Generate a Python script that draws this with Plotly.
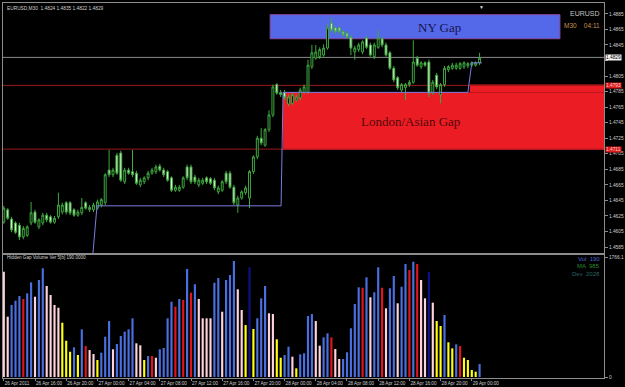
import plotly.graph_objects as go

# ---------------- data ----------------
bars = list(range(123))  # M30 bars from 26 Apr 2011 12:00

opens = [
1.4617, 1.4633, 1.4621, 1.4616, 1.4613, 1.4598, 1.4600, 1.4616, 1.4630, 1.4611,
1.4616, 1.4626, 1.4624, 1.4617, 1.4624, 1.4630, 1.4642, 1.4642, 1.4633, 1.4626,
1.4629, 1.4642, 1.4633, 1.4633, 1.4635, 1.4639, 1.4642, 1.4684, 1.4678, 1.4703,
1.4706, 1.4669, 1.4684, 1.4682, 1.4680, 1.4665, 1.4669, 1.4674, 1.4680, 1.4682,
1.4689, 1.4684, 1.4682, 1.4674, 1.4658, 1.4658, 1.4662, 1.4688, 1.4688, 1.4675,
1.4665, 1.4667, 1.4674, 1.4673, 1.4671, 1.4656, 1.4658, 1.4680, 1.4680, 1.4662,
1.4639, 1.4648, 1.4655, 1.4648, 1.4682, 1.4701, 1.4725, 1.4716, 1.4736, 1.4755,
1.4794, 1.4784, 1.4784, 1.4769, 1.4770, 1.4774, 1.4777, 1.4784, 1.4784, 1.4817,
1.4828, 1.4830, 1.4832, 1.4841, 1.4873, 1.4867, 1.4867, 1.4862, 1.4860, 1.4855,
1.4836, 1.4839, 1.4836, 1.4854, 1.4845, 1.4830, 1.4842, 1.4853, 1.4845, 1.4835,
1.4815, 1.4803, 1.4787, 1.4790, 1.4794, 1.4797, 1.4828, 1.4817, 1.4822, 1.4823,
1.4783, 1.4806, 1.4781, 1.4794, 1.4813, 1.4815, 1.4815, 1.4815, 1.4817, 1.4818,
1.4819, 1.4819, 1.4822]

highs = [
1.4638, 1.4635, 1.4624, 1.4618, 1.4616, 1.4612, 1.4613, 1.4643, 1.4633, 1.4622,
1.4629, 1.4629, 1.4626, 1.4625, 1.4655, 1.4642, 1.4644, 1.4644, 1.4635, 1.4633,
1.4648, 1.4644, 1.4639, 1.4642, 1.4646, 1.4648, 1.4680, 1.4710, 1.4687, 1.4706,
1.4709, 1.4687, 1.4687, 1.4710, 1.4683, 1.4674, 1.4676, 1.4683, 1.4687, 1.4691,
1.4692, 1.4687, 1.4684, 1.4676, 1.4665, 1.4665, 1.4676, 1.4691, 1.4691, 1.4678,
1.4674, 1.4674, 1.4676, 1.4675, 1.4674, 1.4664, 1.4671, 1.4683, 1.4683, 1.4665,
1.4651, 1.4658, 1.4664, 1.4684, 1.4703, 1.4728, 1.4738, 1.4738, 1.4761, 1.4794,
1.4796, 1.4787, 1.4787, 1.4781, 1.4783, 1.4781, 1.4790, 1.4794, 1.4826, 1.4845,
1.4845, 1.4842, 1.4846, 1.4872, 1.4880, 1.4869, 1.4869, 1.4864, 1.4863, 1.4858,
1.4844, 1.4848, 1.4851, 1.4857, 1.4848, 1.4848, 1.4864, 1.4855, 1.4848, 1.4837,
1.4818, 1.4805, 1.4796, 1.4796, 1.4800, 1.4851, 1.4831, 1.4824, 1.4824, 1.4826,
1.4800, 1.4809, 1.4796, 1.4818, 1.4819, 1.4822, 1.4822, 1.4823, 1.4824, 1.4823,
1.4824, 1.4824, 1.4835]

lows = [
1.4615, 1.4620, 1.4604, 1.4602, 1.4594, 1.4595, 1.4598, 1.4613, 1.4615, 1.4608,
1.4613, 1.4617, 1.4615, 1.4615, 1.4621, 1.4627, 1.4627, 1.4626, 1.4624, 1.4624,
1.4626, 1.4633, 1.4630, 1.4630, 1.4633, 1.4636, 1.4639, 1.4675, 1.4675, 1.4678,
1.4669, 1.4666, 1.4678, 1.4675, 1.4665, 1.4662, 1.4666, 1.4671, 1.4678, 1.4679,
1.4682, 1.4675, 1.4669, 1.4656, 1.4656, 1.4656, 1.4660, 1.4671, 1.4666, 1.4666,
1.4662, 1.4665, 1.4666, 1.4665, 1.4658, 1.4653, 1.4656, 1.4666, 1.4660, 1.4639,
1.4629, 1.4646, 1.4652, 1.4635, 1.4679, 1.4698, 1.4716, 1.4714, 1.4733, 1.4752,
1.4781, 1.4778, 1.4774, 1.4766, 1.4768, 1.4772, 1.4774, 1.4782, 1.4782, 1.4814,
1.4826, 1.4827, 1.4830, 1.4839, 1.4862, 1.4859, 1.4859, 1.4855, 1.4853, 1.4832,
1.4826, 1.4836, 1.4833, 1.4840, 1.4830, 1.4827, 1.4840, 1.4842, 1.4830, 1.4813,
1.4797, 1.4787, 1.4784, 1.4774, 1.4791, 1.4795, 1.4817, 1.4814, 1.4817, 1.4778,
1.4781, 1.4788, 1.4770, 1.4791, 1.4810, 1.4813, 1.4813, 1.4813, 1.4814, 1.4815,
1.4817, 1.4817, 1.4819]

closes = [
1.4635, 1.4622, 1.4607, 1.4604, 1.4598, 1.4609, 1.4611, 1.4629, 1.4617, 1.4620,
1.4626, 1.4620, 1.4617, 1.4622, 1.4639, 1.4639, 1.4630, 1.4629, 1.4626, 1.4630,
1.4636, 1.4635, 1.4636, 1.4639, 1.4643, 1.4646, 1.4678, 1.4678, 1.4684, 1.4680,
1.4671, 1.4684, 1.4680, 1.4678, 1.4667, 1.4671, 1.4674, 1.4680, 1.4684, 1.4688,
1.4684, 1.4678, 1.4671, 1.4658, 1.4662, 1.4662, 1.4674, 1.4674, 1.4669, 1.4669,
1.4671, 1.4671, 1.4669, 1.4667, 1.4661, 1.4661, 1.4669, 1.4669, 1.4662, 1.4642,
1.4648, 1.4656, 1.4661, 1.4682, 1.4701, 1.4725, 1.4719, 1.4736, 1.4755, 1.4791,
1.4783, 1.4781, 1.4777, 1.4778, 1.4781, 1.4778, 1.4787, 1.4791, 1.4819, 1.4835,
1.4836, 1.4839, 1.4841, 1.4867, 1.4864, 1.4862, 1.4862, 1.4858, 1.4855, 1.4841,
1.4841, 1.4845, 1.4849, 1.4842, 1.4832, 1.4845, 1.4854, 1.4845, 1.4832, 1.4815,
1.4800, 1.4790, 1.4794, 1.4794, 1.4797, 1.4823, 1.4819, 1.4822, 1.4819, 1.4783,
1.4797, 1.4791, 1.4794, 1.4815, 1.4817, 1.4819, 1.4819, 1.4821, 1.4822, 1.4821,
1.4822, 1.4822, 1.4828]

volumes = [
1550, 888, 1060, 1123, 1192, 1148, 1232, 1394, 1182, 1428,
1600, 1340, 1207, 1060, 1020, 799, 534, 372, 437, 324,
702, 456, 397, 339, 250, 358, 593, 824, 408, 486,
604, 667, 702, 864, 496, 467, 250, 309, 309, 284,
408, 427, 864, 1108, 1035, 1148, 1133, 1590, 1241, 1365,
1148, 864, 864, 864, 1388, 1457, 961, 1428, 1501, 1708,
1291, 986, 765, 1615, 707, 864, 1158, 1340, 938, 927,
555, 284, 324, 446, 299, 128, 334, 349, 898, 927,
824, 461, 584, 643, 584, 412, 265, 265, 364, 717,
1075, 1320, 1314, 1468, 1173, 1247, 1615, 1314, 1011, 1306,
1487, 1085, 1329, 1663, 1575, 1697, 1663, 1428, 1158, 1546,
1094, 824, 751, 913, 511, 422, 481, 456, 284, 250,
103, 78, 190]

# volume class per bar: b=normal, p=low-range, r=climax, y=low volume, n=churn
volume_class = list(
    "ppbbbrbbpb"
    "bppppyyyby"
    "brppybbbpb"
    "bbbbppybrp"
    "bbbbrbrbrb"
    "ppppbbpbbb"
    "ppynybbbpp"
    "yybbpybbbb"
    "ppbbrppbbb"
    "bbrbpbbrpb"
    "bpbbrbrppn"
    "pyybyybryy"
    "yyb")

time_tick_bars = [0, 8, 16, 24, 32, 40, 48, 56, 64, 72, 80, 88, 96, 104, 112, 120]
time_tick_labels = ["26 Apr 2011", "26 Apr 16:00", "26 Apr 20:00", "27 Apr 00:00",
                    "27 Apr 04:00", "27 Apr 08:00", "27 Apr 12:00", "27 Apr 16:00",
                    "27 Apr 20:00", "28 Apr 00:00", "28 Apr 04:00", "28 Apr 08:00",
                    "28 Apr 12:00", "28 Apr 16:00", "28 Apr 20:00", "29 Apr 00:00"]

price_ticks = [1.4585, 1.4605, 1.4625, 1.4645, 1.4665, 1.4685, 1.4705, 1.4725,
               1.4745, 1.4765, 1.4785, 1.4805, 1.4825, 1.4845, 1.4865, 1.4885]

bid_price = 1.4829
gap_line_top = 1.4793
gap_line_bottom = 1.4711
london_gap = (71.6, 1.4710, 1.4784)       # start bar, low, high
london_gap_ext = (119.5, 1.4784, 1.4794)  # upper extension
ny_gap = (68.3, 142.6, 1.4853, 1.4884)    # bar0, bar1, low, high

step_bars = [22.4, 23.9, 71.1, 71.6, 119.0, 120.0, 122.6]
step_prices = [1.4550, 1.4638, 1.4638, 1.4784, 1.4784, 1.4822, 1.4822]

vol_axis_max = 1766.1
shift_marker_bar = 122.6

# ---------------- styling ----------------
vol_colors = {"b": "#4a6fe0", "p": "#ffd3dc", "r": "#e3141c", "y": "#ffff10", "n": "#10108a"}
XR = [-0.205, 153.9]
FONT = "Liberation Sans"
AX = "#8c8c8c"
TXT = "#cfcfcf"

# the bid label box covers the tick label under it, as on the terminal
price_tick_text = ["" if abs(v - bid_price) < 0.0006 else "%.4f" % v for v in price_ticks]

fig = go.Figure()

fig.add_trace(go.Candlestick(
    x=bars, open=opens, high=highs, low=lows, close=closes,
    increasing=dict(line=dict(color="#3fa83f", width=1), fillcolor="#000000"),
    decreasing=dict(line=dict(color="#3fa83f", width=1), fillcolor="#e4f6dc"),
    whiskerwidth=0, showlegend=False, hoverinfo="skip",
    xaxis="x", yaxis="y"))

fig.add_trace(go.Scatter(
    x=step_bars, y=step_prices, mode="lines",
    line=dict(color="#7c7ce0", width=1), showlegend=False, hoverinfo="skip",
    xaxis="x", yaxis="y"))

fig.add_trace(go.Bar(
    x=bars, y=volumes, width=0.55,
    marker=dict(color=[vol_colors[c] for c in volume_class], line=dict(width=0)),
    showlegend=False, hoverinfo="skip", xaxis="x2", yaxis="y2"))

shapes = [
    dict(type="rect", xref="x", yref="y", x0=london_gap[0], x1=XR[1],
         y0=london_gap[1], y1=london_gap[2], fillcolor="#ec1c24", line=dict(width=0), layer="below"),
    dict(type="rect", xref="x", yref="y", x0=london_gap_ext[0], x1=XR[1],
         y0=london_gap_ext[1], y1=london_gap_ext[2], fillcolor="#ec1c24", line=dict(width=0), layer="below"),
    dict(type="rect", xref="x", yref="y", x0=ny_gap[0], x1=ny_gap[1],
         y0=ny_gap[2], y1=ny_gap[3], fillcolor="#5468ea", line=dict(color="#8a4c9c", width=1), layer="below"),
    dict(type="line", xref="x", yref="y", x0=XR[0], x1=XR[1], y0=bid_price, y1=bid_price,
         line=dict(color="#8a8a8a", width=1), layer="below"),
    dict(type="line", xref="x", yref="y", x0=XR[0], x1=XR[1], y0=gap_line_top, y1=gap_line_top,
         line=dict(color="#9a1818", width=1), layer="below"),
    dict(type="line", xref="x", yref="y", x0=XR[0], x1=XR[1], y0=gap_line_bottom, y1=gap_line_bottom,
         line=dict(color="#9a1818", width=1), layer="below"),
]

ann = [
    dict(text="EURUSD,M30  1.4824 1.4835 1.4822 1.4829", xref="paper", yref="paper",
         x=0, y=1, xanchor="left", yanchor="top", xshift=2, yshift=-1,
         font=dict(size=4.8, color=TXT, family=FONT), showarrow=False),
    dict(text="EURUSD", xref="paper", yref="paper", x=1, y=0.9707, xanchor="right",
         yanchor="middle", xshift=-2, font=dict(size=7, color="#c4c4c4", family=FONT), showarrow=False),
    dict(text="M30    04:11", xref="paper", yref="paper", x=1, y=0.9387, xanchor="right",
         yanchor="middle", xshift=-2, font=dict(size=6.5, color="#c89050", family=FONT), showarrow=False),
    dict(text="\u25bc", xref="x", yref="paper", x=shift_marker_bar, y=1, xanchor="center", yanchor="top",
         yshift=1, font=dict(size=5, color="#d8d8d8", family=FONT), showarrow=False),
    dict(text="NY Gap", xref="x", yref="y", x=111.8, y=1.48669, xanchor="center", yanchor="middle",
         font=dict(size=13, color="#15154e", family="Liberation Serif"), showarrow=False),
    dict(text="London/Asian Gap", xref="x", yref="y", x=104.2, y=1.47459, xanchor="center",
         yanchor="middle", font=dict(size=13, color="#520808", family="Liberation Serif"), showarrow=False),
    dict(text="%.4f" % bid_price, xref="paper", yref="y", x=1, y=bid_price, xanchor="left",
         yanchor="middle", xshift=1, bgcolor="#f4f4f4", borderpad=0,
         font=dict(size=4.8, color="#000000", family=FONT), showarrow=False),
    dict(text="%.4f" % gap_line_top, xref="paper", yref="y", x=1, y=gap_line_top, xanchor="left",
         yanchor="middle", xshift=1, bgcolor="#d81a1a", borderpad=0,
         font=dict(size=4.8, color="#ffd0d0", family=FONT), showarrow=False),
    dict(text="%.4f" % gap_line_bottom, xref="paper", yref="y", x=1, y=gap_line_bottom, xanchor="left",
         yanchor="middle", xshift=1, bgcolor="#d81a1a", borderpad=0,
         font=dict(size=4.8, color="#ffd0d0", family=FONT), showarrow=False),
    dict(text="Hidden Gap Volume Ver 5[b] 190.0000", xref="paper", yref="paper", x=0, y=0.322,
         xanchor="left", yanchor="middle", xshift=2, font=dict(size=4.6, color=TXT, family=FONT),
         showarrow=False),
    dict(text="Vol  190", xref="paper", yref="paper", x=1, y=0.3186, xanchor="right", yanchor="middle",
         xshift=-2, font=dict(size=6, color="#4a64c8", family=FONT), showarrow=False),
    dict(text="MA  985", xref="paper", yref="paper", x=1, y=0.300, xanchor="right", yanchor="middle",
         xshift=-2, font=dict(size=6, color="#2a8a2a", family=FONT), showarrow=False),
    dict(text="Dev  2028", xref="paper", yref="paper", x=1, y=0.2786, xanchor="right", yanchor="middle",
         xshift=-2, font=dict(size=6, color="#2c6464", family=FONT), showarrow=False),
]

fig.update_layout(
    width=625, height=387,
    margin=dict(l=3, r=21, t=3, b=9, autoexpand=False),
    paper_bgcolor="#000000", plot_bgcolor="#000000",
    font=dict(family=FONT, size=5, color=TXT),
    shapes=shapes, annotations=ann,
    xaxis=dict(domain=[0, 1], range=XR, anchor="y", showticklabels=False, ticks="",
               showgrid=False, zeroline=False, showline=True, linecolor=AX, mirror=True,
               rangeslider=dict(visible=False), automargin=False),
    yaxis=dict(domain=[0.3333, 1], range=[1.45773, 1.48990], side="right",
               tickvals=price_ticks, ticktext=price_tick_text,
               tickfont=dict(size=4.8, color=TXT, family=FONT), ticks="outside", ticklen=3,
               tickcolor=AX, showgrid=False, zeroline=False, showline=True, linecolor=AX, mirror=True,
               automargin=False),
    xaxis2=dict(domain=[0, 1], range=XR, anchor="y2", matches="x",
                tickvals=time_tick_bars, ticktext=time_tick_labels, tickangle=0,
                ticklabelposition="outside right", ticks="outside", ticklen=2, tickcolor=AX,
                tickfont=dict(size=4.6, color=TXT, family=FONT),
                showgrid=False, zeroline=False, showline=True, linecolor=AX, mirror=True,
                automargin=False),
    yaxis2=dict(domain=[0, 0.328], range=[-14.7, 1796], side="right",
                tickvals=[0, vol_axis_max], ticktext=["0", "%.1f" % vol_axis_max],
                tickfont=dict(size=4.8, color=TXT, family=FONT), ticks="outside", ticklen=3,
                tickcolor=AX, showgrid=False, zeroline=False, showline=True, linecolor=AX, mirror=True,
                automargin=False),
)

fig.write_html("out.html")
